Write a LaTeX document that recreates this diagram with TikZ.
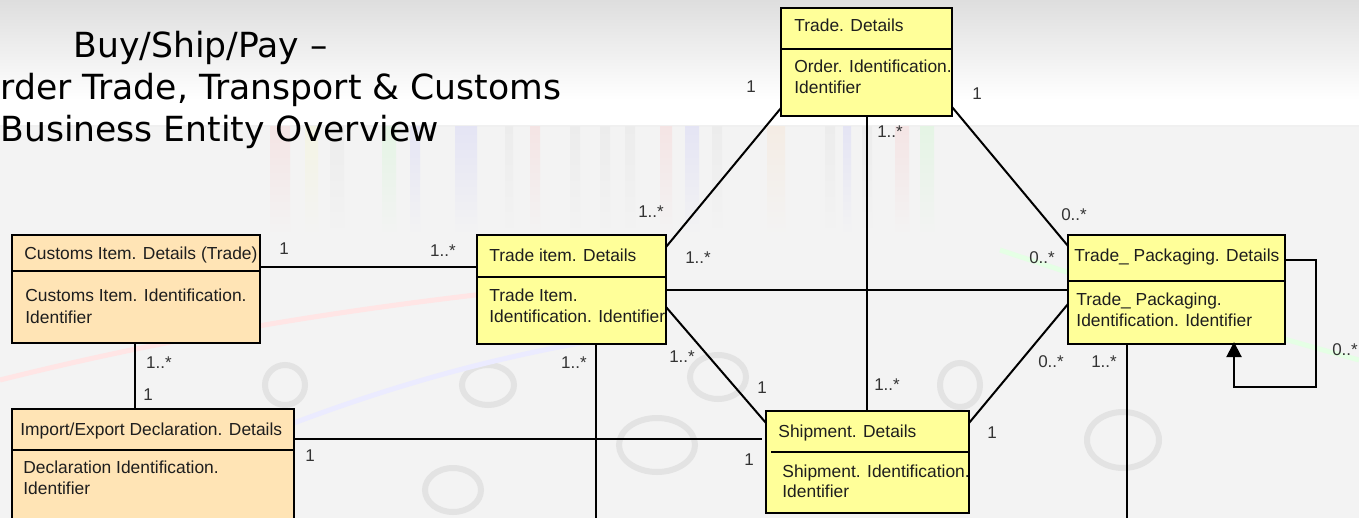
\documentclass[tikz,border=0pt]{standalone}
\usepackage{fontspec}
\setmainfont{Liberation Sans}
\newfontfamily\titlefont{DejaVu Sans}
\usetikzlibrary{arrows.meta}

\definecolor{peach}{HTML}{FFE4B5}
\definecolor{lemon}{HTML}{FFFF99}
\definecolor{ink}{HTML}{1E1E1E}
\definecolor{multc}{HTML}{333333}
\definecolor{bgc}{HTML}{F3F3F3}
\definecolor{topc}{HTML}{DEDEDE}

\begin{document}
\begin{tikzpicture}[x=0.5pt,y=-0.5pt,
  entity/.style={draw=black, line width=1pt, inner sep=0pt, outer sep=0pt, anchor=north west},
  txt/.style={anchor=base west, inner sep=0pt, text=ink, font=\fontsize{8.7}{10.5}\selectfont},
  mult/.style={inner sep=0pt, text=multc, font=\fontsize{8.5}{10}\selectfont},
  assoc/.style={draw=black, line width=1pt},
  divider/.style={draw=black, line width=1pt},
  ring/.style={draw=gray!22, line width=3pt},
  title/.style={anchor=base west, inner sep=0pt, text=black, font=\titlefont\fontsize{17.3}{20}\selectfont}]

\useasboundingbox (0,0) rectangle (1359,518);

% ---------- background ----------
\fill[bgc] (0,0) rectangle (1359,518);
\shade[top color=topc, bottom color=white] (0,0) rectangle (1359,100);
\fill[white] (0,100) rectangle (1359,126);
\draw[gray!12, line width=1pt] (0,126.5) -- (1359,126.5);
\foreach \sx/\sw/\sc in {270/20/red, 305/13/yellow, 330/14/gray, 382/14/green,
    410/10/blue, 455/22/blue, 505/8/gray, 530/10/red, 570/10/gray, 600/10/gray,
    625/10/gray, 660/12/red, 685/14/blue, 712/10/gray, 767/18/orange, 825/10/gray,
    843/8/blue, 862/10/gray, 895/14/red, 920/14/green}
  \shade[top color=\sc!6!bgc, bottom color=bgc] (\sx,127) rectangle (\sx+\sw,235);
\draw[ring] (285,385) circle[radius=20];
\draw[ring] (488,385) ellipse[x radius=26, y radius=20];
\draw[ring] (657,445) ellipse[x radius=38, y radius=27];
\draw[ring] (718,377) ellipse[x radius=28, y radius=22];
\draw[ring] (1123,440) ellipse[x radius=36, y radius=28];
\draw[ring] (453,490) ellipse[x radius=28, y radius=22];
\draw[ring] (960,385) ellipse[x radius=20, y radius=22];
\draw[red!10, line width=2.5pt] (0,380) .. controls (200,330) and (400,300) .. (620,280);
\draw[green!10, line width=2.5pt] (1000,250) .. controls (1150,300) and (1250,330) .. (1359,360);
\draw[blue!8, line width=2.5pt] (250,440) .. controls (400,380) and (520,350) .. (660,330);

% ---------- title ----------
\node[title] (t1) at (73,58) {Buy/Ship/Pay –};
\node[title] (t2) at (0,100) {rder Trade, Transport \& Customs};
\node[title] (t3) at (0,142) {Business Entity Overview};

% ---------- entities ----------
% Customs Item
\node[entity, fill=peach, minimum width=124pt, minimum height=54pt] (ci) at (12,235) {};
\draw[divider] (12,271) -- (260,271);
\node[txt] (ci-h) at (24,259) {Customs Item. Details (Trade)};
\node[txt] (ci-a1) at (25,301) {Customs Item. Identification.};
\node[txt] (ci-a2) at (25,323) {Identifier};

% Import/Export Declaration
\node[entity, fill=peach, minimum width=141pt, minimum height=60pt] (ie) at (12,409) {};
\draw[divider] (12,450) -- (294,450);
\node[txt] (ie-h) at (20,435) {Import/Export Declaration. Details};
\node[txt] (ie-a1) at (23,473) {Declaration Identification.};
\node[txt] (ie-a2) at (23,494) {Identifier};

% Trade item
\node[entity, fill=lemon, minimum width=94.5pt, minimum height=54.5pt] (ti) at (477,235) {};
\draw[divider] (477,277) -- (666,277);
\node[txt] (ti-h) at (489,262) {Trade item. Details};
\node[txt] (ti-a1) at (489,301) {Trade Item.};
\node[txt] (ti-a2) at (489,322) {Identification. Identifier};

% Trade
\node[entity, fill=lemon, minimum width=85.5pt, minimum height=54pt] (td) at (781,8) {};
\draw[divider] (781,49) -- (952,49);
\node[txt] (td-h) at (794,32) {Trade. Details};
\node[txt] (td-a1) at (794,73) {Order. Identification.};
\node[txt] (td-a2) at (794,94) {Identifier};

% Trade packaging
\node[entity, fill=lemon, minimum width=108.5pt, minimum height=54.5pt] (tp) at (1068,235) {};
\draw[divider] (1068,281) -- (1285,281);
\node[txt] (tp-h) at (1074,262) {Trade\_ Packaging. Details};
\node[txt] (tp-a1) at (1076,305) {Trade\_ Packaging.};
\node[txt] (tp-a2) at (1076,326) {Identification. Identifier};

% Shipment
\node[entity, fill=lemon, minimum width=101.5pt, minimum height=51pt] (sh) at (766,411) {};
\draw[divider] (771,452) -- (969,452);
\node[txt] (sh-h) at (778,437) {Shipment. Details};
\node[txt] (sh-a1) at (782,477) {Shipment. Identification.};
\node[txt] (sh-a2) at (782,497) {Identifier};

% ---------- associations ----------
\coordinate (tiEnd) at (596,530);
\coordinate (tpEnd) at (1127,530);
\coordinate (loopA) at (1316,260);
\coordinate (loopB) at (1316,387);
\coordinate (loopC) at (1234,387);

\draw[assoc] (ci.east |- 0,267) -- (ti.west |- 0,267);
\draw[assoc] (ci.south -| 135,0) -- (ie.north -| 135,0);
\draw[assoc, shorten >=2pt] (ie.east |- 0,439) -- (sh.west |- 0,439);
\draw[assoc] (ti.south -| tiEnd) -- (tiEnd);
\draw[assoc] (ti.east |- 0,247) -- (td.west |- 0,108);
\draw[assoc] (ti.east |- 0,290) -- (tp.west |- 0,290);
\draw[assoc] (ti.east |- 0,307) -- (sh.west |- 0,423);
\draw[assoc] (td.south -| 867,0) -- (sh.north -| 867,0);
\draw[assoc] (td.east |- 0,107) -- (tp.west |- 0,246);
\draw[assoc] (sh.east |- 0,423) -- (tp.west |- 0,304);
\draw[assoc] (tp.south -| tpEnd) -- (tpEnd);
\draw[assoc, -{Triangle[length=7.5pt,width=7.5pt]}, shorten >=-1pt]
  (tp.east |- loopA) -- (loopA) -- (loopB) -- (loopC) -- (tp.south -| loopC);

% ---------- multiplicities ----------
\node[mult] (m1) at (284,249) {1};
\node[mult] (m2) at (443,251) {1..*};
\node[mult] (m3) at (159,363) {1..*};
\node[mult] (m4) at (148,395) {1};
\node[mult] (m5) at (310,456) {1};
\node[mult] (m6) at (749,460) {1};
\node[mult] (m7) at (574,363) {1..*};
\node[mult] (m8) at (682,357) {1..*};
\node[mult] (m9) at (762,388) {1};
\node[mult] (m10) at (698,258) {1..*};
\node[mult] (m11) at (651,212) {1..*};
\node[mult] (m12) at (751,87) {1};
\node[mult] (m13) at (977,94) {1};
\node[mult] (m14) at (890,132) {1..*};
\node[mult] (m15) at (1074,215) {0..*};
\node[mult] (m16) at (1042,258) {0..*};
\node[mult] (m17) at (1051,362) {0..*};
\node[mult] (m18) at (1104,362) {1..*};
\node[mult] (m19) at (992,433) {1};
\node[mult] (m20) at (1345,350) {0..*};
\node[mult] (m21) at (887,385) {1..*};
\end{tikzpicture}
\end{document}
